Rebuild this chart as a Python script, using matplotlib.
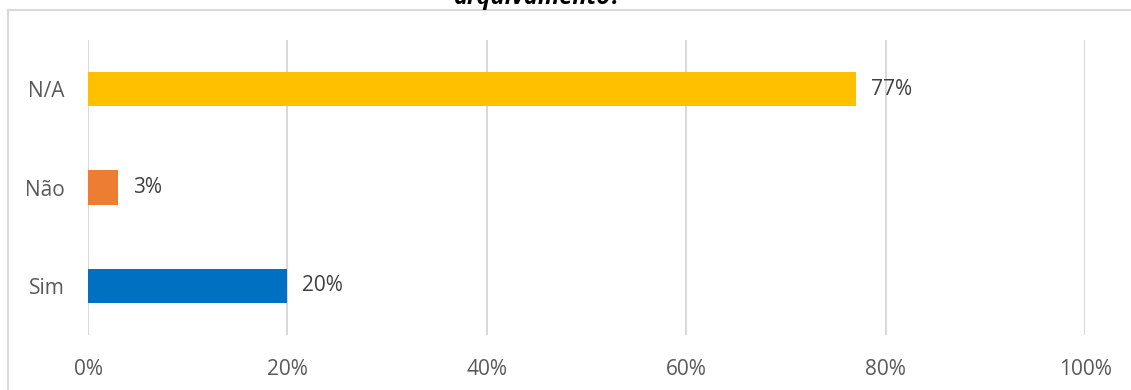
import matplotlib.pyplot as plt
from matplotlib.lines import Line2D

# data
categories = ['Sim', 'Não', 'N/A']
values = [20, 3, 77]
colors = ['#0070C0', '#ED7D31', '#FFC000']
xticks = [0, 20, 40, 60, 80, 100]
title = 'arquivamento?'

plt.rcParams['font.family'] = ['Open Sans', 'DejaVu Sans']

W, H = 1131, 390
fig = plt.figure(figsize=(W / 100, H / 100), dpi=100)

# chart frame (only top and left edges fall inside the picture)
fig.lines.append(Line2D([8 / W, 1], [1 - 10 / H, 1 - 10 / H], transform=fig.transFigure,
                        color='#d9d9d9', linewidth=1.5))
fig.lines.append(Line2D([8 / W, 8 / W], [0, 1 - 10 / H], transform=fig.transFigure,
                        color='#d9d9d9', linewidth=1.5))

ax = fig.add_axes([88 / W, 1 - 335 / H, (1085 - 88) / W, (335 - 40) / H])
ax.barh(range(len(categories)), values, height=0.35, color=colors)
ax.set_xlim(0, 100)
ax.set_ylim(-0.5, len(categories) - 0.5)

ax.set_xticks(xticks)
ax.set_xticklabels(['{}%'.format(t) for t in xticks])
ax.set_yticks(range(len(categories)))
ax.set_yticklabels(categories)
ax.tick_params(axis='both', length=0, labelsize=15, colors='#595959')
ax.tick_params(axis='x', pad=17)
ax.tick_params(axis='y', pad=17)
ax.grid(axis='x', color='#d9d9d9', linewidth=1.5)
ax.set_axisbelow(True)
for s in ax.spines.values():
    s.set_visible(False)

for i, v in enumerate(values):
    ax.text(v + 1.5, i, '{}%'.format(v), va='center', ha='left', fontsize=15, color='#404040')

# title is cropped at the top edge in the source image
fig.text(0.476, 1 - 4 / H, title, ha='center', va='baseline', fontsize=17,
         fontweight='bold', fontstyle='italic', color='black')

fig.savefig('out.png', dpi=100)
